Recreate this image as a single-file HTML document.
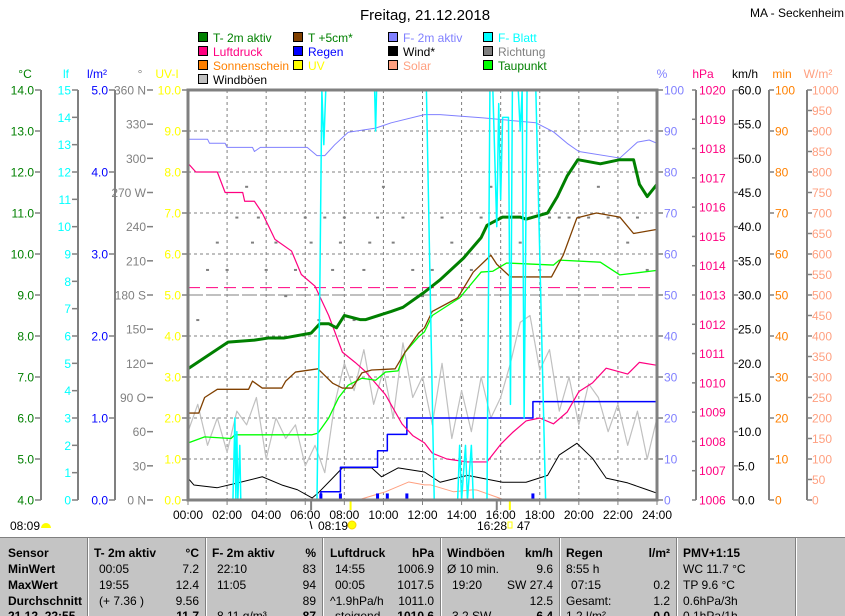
<!DOCTYPE html>
<html><head><meta charset="utf-8">
<style>
html,body{margin:0;padding:0;background:#fff;}
body{width:845px;height:615px;overflow:hidden;position:relative;font-family:"Liberation Sans",sans-serif;}
svg{position:absolute;left:0;top:0;}
text{font-family:"Liberation Sans",sans-serif;}
#tbl{position:absolute;left:0;top:537px;width:845px;height:78px;background:#c4c4c4;border-top:1px solid #808080;overflow:hidden;}
.col{position:absolute;top:0;height:78px;border-right:1px solid #808080;box-shadow:1px 0 0 #fff;}
.r{position:absolute;font-size:12px;white-space:nowrap;}
.b{font-weight:bold;}
</style></head>
<body>
<svg id="chart" width="845" height="537"></svg>
<div id="tbl">
  <div class="col" style="left:0;width:87px">
    <div class="r b" style="left:8px;top:8px">Sensor</div>
    <div class="r b" style="left:8px;top:24px">MinWert</div>
    <div class="r b" style="left:8px;top:40px">MaxWert</div>
    <div class="r b" style="left:8px;top:56px">Durchschnitt</div>
    <div class="r b" style="left:8px;top:71px">21.12. 22:55</div>
  </div>
  <div class="col" style="left:88px;width:117px">
    <div class="r b" style="left:6px;top:8px">T- 2m aktiv</div><div class="r b" style="right:6px;top:8px">°C</div>
    <div class="r" style="left:11px;top:24px">00:05</div><div class="r" style="right:6px;top:24px">7.2</div>
    <div class="r" style="left:11px;top:40px">19:55</div><div class="r" style="right:6px;top:40px">12.4</div>
    <div class="r" style="left:11px;top:56px">(+ 7.36 )</div><div class="r" style="right:6px;top:56px">9.56</div>
    <div class="r b" style="right:6px;top:71px">11.7</div>
  </div>
  <div class="col" style="left:206px;width:116px">
    <div class="r b" style="left:6px;top:8px">F- 2m aktiv</div><div class="r b" style="right:6px;top:8px">%</div>
    <div class="r" style="left:11px;top:24px">22:10</div><div class="r" style="right:6px;top:24px">83</div>
    <div class="r" style="left:11px;top:40px">11:05</div><div class="r" style="right:6px;top:40px">94</div>
    <div class="r" style="right:6px;top:56px">89</div>
    <div class="r" style="left:11px;top:71px">8.11 g/m³</div><div class="r b" style="right:6px;top:71px">87</div>
  </div>
  <div class="col" style="left:323px;width:117px">
    <div class="r b" style="left:7px;top:8px">Luftdruck</div><div class="r b" style="right:6px;top:8px">hPa</div>
    <div class="r" style="left:12px;top:24px">14:55</div><div class="r" style="right:6px;top:24px">1006.9</div>
    <div class="r" style="left:12px;top:40px">00:05</div><div class="r" style="right:6px;top:40px">1017.5</div>
    <div class="r" style="left:7px;top:56px">^1.9hPa/h</div><div class="r" style="right:6px;top:56px">1011.0</div>
    <div class="r" style="left:12px;top:71px">steigend</div><div class="r b" style="right:6px;top:71px">1010.6</div>
  </div>
  <div class="col" style="left:441px;width:118px">
    <div class="r b" style="left:6px;top:8px">Windböen</div><div class="r b" style="right:6px;top:8px">km/h</div>
    <div class="r" style="left:6px;top:24px">Ø 10 min.</div><div class="r" style="right:6px;top:24px">9.6</div>
    <div class="r" style="left:11px;top:40px">19:20</div><div class="r" style="right:6px;top:40px">SW 27.4</div>
    <div class="r" style="right:6px;top:56px">12.5</div>
    <div class="r" style="left:11px;top:71px">3.2 SW</div><div class="r b" style="right:6px;top:71px">6.4</div>
  </div>
  <div class="col" style="left:560px;width:116px">
    <div class="r b" style="left:6px;top:8px">Regen</div><div class="r b" style="right:6px;top:8px">l/m²</div>
    <div class="r" style="left:6px;top:24px">8:55 h</div>
    <div class="r" style="left:11px;top:40px">07:15</div><div class="r" style="right:6px;top:40px">0.2</div>
    <div class="r" style="left:6px;top:56px">Gesamt:</div><div class="r" style="right:6px;top:56px">1.2</div>
    <div class="r" style="left:6px;top:71px">1.2 l/m²</div><div class="r b" style="right:6px;top:71px">0.0</div>
  </div>
  <div class="col" style="left:677px;width:118px">
    <div class="r b" style="left:6px;top:8px">PMV+1:15</div>
    <div class="r" style="left:6px;top:24px">WC 11.7 °C</div>
    <div class="r" style="left:6px;top:40px">TP 9.6 °C</div>
    <div class="r" style="left:6px;top:56px">0.6hPa/3h</div>
    <div class="r" style="left:6px;top:71px">0.1hPa/1h</div>
  </div>
</div>
<script>
// ---- data ----
const tempTimes = [0,2.05,3.4,4.1,4.9,6.3,6.75,7.2,7.6,8.0,8.8,9.1,10.4,11.0,12.1,12.9,14.1,15.0,15.3,16.1,17.0,17.3,18.4,18.9,19.4,19.95,21.1,22.1,22.8,23.1,23.5,24];
const tempValues = [7.2,7.85,7.9,7.95,7.95,8.07,8.3,8.3,8.2,8.5,8.4,8.4,8.6,8.7,9.07,9.37,9.9,10.4,10.7,10.9,10.9,10.85,11.0,11.4,11.9,12.3,12.2,12.3,12.3,11.7,11.4,11.7];
const humTimes = [0,1.0,1.1,1.9,2.0,3.3,3.4,3.7,6.1,6.6,7.0,7.5,8.2,9.6,10.4,12.1,12.9,15.1,17.8,18.7,19.4,20.0,22.1,23.0,23.6,24];
const humValues = [88,88,87,87,86,86,85,86,86,84,84,86.6,89.7,90.7,92,94,94,93.2,92,89.8,87,85,83.4,87.3,87.8,87];
const pressTimes = [0,0.4,1.5,1.9,2.8,2.9,3.4,3.8,4.45,5.3,5.8,6.5,7.2,7.9,8.55,9.06,10.1,10.95,11.5,12.1,12.5,13.25,14.3,15.3,16.0,16.6,17.3,18.0,18.7,19.4,20.0,20.7,21.4,22.5,23.1,24];
const pressValues = [1017.5,1017.2,1017.2,1016.5,1016.5,1016.2,1016.2,1015.8,1014.9,1014.5,1013.7,1013.3,1012.3,1011.05,1010.7,1010.4,1009.6,1008.6,1008.2,1007.95,1007.6,1007.4,1007.3,1007.3,1007.9,1008.3,1008.7,1008.8,1008.6,1009.0,1009.7,1010.0,1010.5,1010.3,1010.7,1010.6];
const soilTimes = [0,0.55,0.85,1.5,3.1,3.3,3.8,4.8,5.0,5.5,6.65,7.4,7.9,8.4,8.9,9.4,10.6,11.1,11.8,12.1,12.5,13.8,14.6,15.5,15.8,16.5,18.6,19.2,19.9,20.9,22.1,22.8,24];
const soilValues = [6.12,6.12,6.5,6.7,6.7,6.9,6.73,6.73,6.9,7.12,7.2,6.85,6.73,6.73,7.1,7.17,7.2,7.6,8.07,8.2,8.6,8.93,9.56,9.97,9.75,9.44,9.44,9.97,10.88,11.0,10.9,10.5,10.6];
const dewTimes = [0,0.85,2.2,2.4,6.35,6.65,7.2,7.7,8.2,8.9,9.6,10.1,10.75,11.1,11.8,12.1,12.5,13.9,15.0,15.6,16.3,18.7,19.0,21.1,22.1,24];
const dewValues = [5.39,5.54,5.5,5.59,5.59,5.63,6.0,6.49,6.8,6.97,6.92,7.12,7.15,7.6,7.98,8.1,8.5,8.93,9.56,9.58,9.78,9.73,9.85,9.8,9.49,9.6];
const windTimes = [0,0.3,1.5,2.55,3.8,4.8,5.6,6.35,6.65,7.4,7.9,9.4,9.9,10.75,12.1,12.9,14.3,16.1,17.3,18.4,19.0,19.9,20.7,21.4,22.5,23.5,24];
const windValues = [3.2,2.2,1.8,2.5,3.4,2.2,1.5,0.3,1.0,3.2,4.7,4.7,3.4,4.7,4.1,2.6,3.6,2.6,2.6,3.6,6.6,8.3,6.1,3.2,2.5,1.5,1.0];
const gustTimes = [0,0.5,1,1.5,2,2.5,3,3.5,4,4.5,5,5.5,6,6.5,7,7.5,8,8.5,9,9.5,10,10.5,11,11.5,12,12.5,13,13.5,14,14.5,15,15.5,16,16.5,17,17.5,18,18.5,19,19.5,20,20.5,21,21.5,22,22.5,23,23.5,24];
const gustValues = [10,14,8,12,7,13,11,15,6,12,9,11,5,8,4,14,20,16,22,14,19,12,23,15,18,11,20,9,16,10,18,12,15,20,26,27,19,22,13,18,11,17,15,10,14,8,13,6,12];
const rainTimes = [0,6.8,7.8,9.7,10.2,11.2,17.65,24];
const rainTotals = [0,0.1,0.4,0.6,0.8,1.0,1.2,1.2];
const rainRateTimes = [6.8,7.8,9.7,10.2,11.2,17.65];
const rainRates = [0.2,0.2,0.2,0.2,0.2,0.2];
const leafTimes = [0,2.3,2.4,2.45,2.5,2.55,2.65,2.7,6.6,6.75,6.85,6.95,7.05,9.55,9.6,9.65,12.2,12.6,13.8,13.9,14.0,14.2,14.3,14.5,14.6,15.3,15.45,15.6,15.8,15.9,16.0,16.1,16.4,16.5,16.6,16.9,17.0,17.1,17.2,17.35,17.8,18.3,24];
const leafValues = [0,0,3,0,2.5,0,2,0,0,8,15,13,15,15,13.5,15,15,0,0,2,0,2,0,2,0,0,15,15,10,14.5,11,14,14,3.5,15,15,13.5,15,3,15,15,0,0];
const solarTimes = [0,8.7,10.1,11.3,12.1,12.4,13.6,14.6,14.8,15.8,16.2,24];
const solarValues = [0,0,20,44,37,37,20,25,24,7,0,0];
const sunTimes = [0,24];
const sunValues = [0,0];
const dirTimes = [0.5,1,1.5,2,2.5,3,3.3,3.6,4,4.5,5,5.5,6,6.3,6.7,7,7.4,7.8,8,8.5,9,9.3,9.7,10,10.5,11,11.5,12,12.5,13,13.5,14,14.5,15,15.5,16,16.5,17,17.5,18,18.5,19,19.5,20,20.5,21,21.5,22,22.5,23,23.5,24];
const dirValues = [158,202,226,202,248,275,226,248,202,226,179,202,248,226,158,248,202,226,248,158,202,226,248,275,226,248,202,179,202,248,226,158,202,248,275,248,248,226,248,202,248,248,248,248,248,275,248,248,226,248,202,248];
const xTickLabels = ["00:00","02:00","04:00","06:00","08:00","10:00","12:00","14:00","16:00","18:00","20:00","22:00","24:00"];
const tempTicks = ["14.0","13.0","12.0","11.0","10.0","9.0","8.0","7.0","6.0","5.0","4.0"];
const leafTicks = ["15","14","13","12","11","10","9","8","7","6","5","4","3","2","1","0"];
const rainTicks = ["5.0","4.0","3.0","2.0","1.0","0.0"];
const dirTicks = ["360 N","330","300","270 W","240","210","180 S","150","120","90 O","60","30","0 N"];
const uvTicks = ["10.0","9.0","8.0","7.0","6.0","5.0","4.0","3.0","2.0","1.0","0.0"];
const humTicks = ["100","90","80","70","60","50","40","30","20","10","0"];
const pressTicks = ["1020","1019","1018","1017","1016","1015","1014","1013","1012","1011","1010","1009","1008","1007","1006"];
const windTicks = ["60.0","55.0","50.0","45.0","40.0","35.0","30.0","25.0","20.0","15.0","10.0","5.0","0.0"];
const minTicks = ["100","90","80","70","60","50","40","30","20","10","0"];
const solarTicks = ["1000","950","900","850","800","750","700","650","600","550","500","450","400","350","300","250","200","150","100","50","0"];

// ---- geometry ----
const X0=188,X1=657,Y0=90,Y1=500;
const svg=document.getElementById('chart');
const NS='http://www.w3.org/2000/svg';
function xs(h){return X0+h*(X1-X0)/24;}
function ys(v,min,max){return Y1-(v-min)/(max-min)*(Y1-Y0);}
function mk(tag,attrs,parent){const e=document.createElementNS(NS,tag);for(const k in attrs)e.setAttribute(k,attrs[k]);(parent||svg).appendChild(e);return e;}
function txt(x,y,s,fill,anchor,size){const t=mk('text',{x:x,y:y,fill:fill,'font-size':size||12,'text-anchor':anchor||'start'});t.textContent=s;return t;}

let t=txt(425,20,'Freitag, 21.12.2018','#000','middle',15);


t=txt(750,17,'MA - Seckenheim','#000','start',12);



const legItems=[["T- 2m aktiv","#008000","#008000"],["T +5cm*","#804000","#008000"],["F- 2m aktiv","#8080ff","#8080ff"],["F- Blatt","#00ffff","#00ffff"],
["Luftdruck","#ff0080","#ff0080"],["Regen","#0000ff","#0000ff"],["Wind*","#000000","#000000"],["Richtung","#808080","#808080"],
["Sonnenschein","#ff8000","#ff8000"],["UV","#ffff00","#ffff00"],["Solar","#ffa080","#ffa080"],["Taupunkt","#00ff00","#008000"],
["Windböen","#c0c0c0","#000000"]];
const legX=[198,293,388,483];
legItems.forEach((it,i)=>{
  const g=mk('g',{});
  
  
  const x=legX[i%4],y=38+Math.floor(i/4)*14;
  mk('rect',{x:x+0.5,y:y-5.5,width:9,height:9,fill:it[1],stroke:'#000','stroke-width':1},g);
  const tt=mk('text',{x:x+15,y:y+4,fill:it[2],'font-size':12},g);tt.textContent=it[0];
});

const grid=mk('g',{});


for(let i=1;i<12;i++){const x=xs(i*2);mk('line',{x1:x,y1:Y0,x2:x,y2:Y1,stroke:'#808080','stroke-dasharray':'3,3'},grid);}
for(let i=1;i<10;i++){const y=Y0+i*41;mk('line',{x1:X0,y1:y,x2:X1,y2:y,stroke:'#808080','stroke-dasharray':'3,3'},grid);}

function axis(name,labels,lineX,tickX1,tickX2,labelX,anchor,color,unit,unitX){
  const g=mk('g',{});
  
  
  if(lineX!==null) mk('line',{x1:lineX,y1:Y0,x2:lineX,y2:Y1,stroke:'#808080','stroke-width':2},g);
  const n=labels.length-1;
  labels.forEach((l,i)=>{const y=Y0+i*(Y1-Y0)/n;
    mk('line',{x1:tickX1,y1:y,x2:tickX2,y2:y,stroke:'#808080','stroke-width':1.5},g);
    const tt=mk('text',{x:labelX,y:y+4.5,fill:color,'font-size':12,'text-anchor':anchor},g);tt.textContent=l;});
  const u=mk('text',{x:unitX,y:78,fill:color,'font-size':12,'text-anchor':'middle'},g);u.textContent=unit;
}
axis('temp-axis',tempTicks,41,35,41,34,'end','#008000','°C',25);
axis('leaf-axis',leafTicks,78,72,78,71,'end','#00ffff','lf',66);
axis('rain-axis',rainTicks,115,109,115,108,'end','#0000ff','l/m²',97);
axis('direction-axis',dirTicks,null,147,153,146,'end','#808080','°',140);
axis('uv-axis',uvTicks,null,182,188,181,'end','#ffff00','UV-I',167);
axis('humidity-axis',humTicks,null,657,663,664,'start','#8080ff','%',662);
axis('pressure-axis',pressTicks,696,692,696,699,'start','#ff0080','hPa',703);
axis('wind-axis',windTicks,733,733,738,738,'start','#000','km/h',745);
axis('sunshine-axis',minTicks,769,769,774,775,'start','#ff8000','min',782);
axis('solar-axis',solarTicks,807,807,812,812,'start','#ffa080','W/m²',818);

const xg=mk('g',{});


xTickLabels.forEach((l,i)=>{const x=xs(i*2);mk('line',{x1:x,y1:Y1,x2:x,y2:Y1+5,stroke:'#808080'},xg);
  const tt=mk('text',{x:x,y:519,fill:'#000','font-size':12,'text-anchor':'middle'},xg);tt.textContent=l;});
mk('line',{x1:xs(6.3),y1:Y1,x2:xs(6.3),y2:Y1+10,stroke:'#808080','stroke-width':2},xg);
mk('line',{x1:xs(15.8),y1:Y1,x2:xs(15.8),y2:Y1+10,stroke:'#808080','stroke-width':2},xg);
mk('line',{x1:xs(8.32),y1:Y1,x2:xs(8.32),y2:Y1+10,stroke:'#ffff00','stroke-width':2},xg);
mk('line',{x1:xs(16.47),y1:Y1,x2:xs(16.47),y2:Y1+10,stroke:'#ffff00','stroke-width':2},xg);
t=txt(10,530,'08:09','#000','start',12);


mk('path',{d:'M41,528 a5,5 0 0 1 10,0 z',fill:'#ffff00'});
t=txt(318,530,'08:19','#000','start',12);


mk('circle',{cx:352,cy:525,r:4,fill:'#ffff00',stroke:'#ffd000'});
mk('line',{x1:310,y1:521,x2:312,y2:529,stroke:'#000'});
t=txt(477,530,'16:28','#000','start',12);


mk('rect',{x:508,y:522,width:4,height:6,fill:'none',stroke:'#ffff00'});
txt(517,530,'47','#000','start',12);

function line(name,times,vals,min,max,color,w,step){
  let d='';
  times.forEach((h,i)=>{const x=xs(h),y=ys(vals[i],min,max);
    if(i===0)d+='M'+x+','+y;else if(step){d+='H'+x+'V'+y;}else d+='L'+x+','+y;});
  const p=mk('path',{d:d,fill:'none',stroke:color,'stroke-width':w,'stroke-linejoin':'round'});
  
  
  return p;
}
const dg=mk('g',{});


dirTimes.forEach((h,i)=>{mk('rect',{x:xs(h)-1.5,y:ys(dirValues[i],0,360)-1,width:3,height:2,fill:'#808080'},dg);});
mk('line',{x1:X0,y1:ys(1013.25,1006,1020),x2:X1,y2:ys(1013.25,1006,1020),stroke:'#ff0080','stroke-dasharray':'12,6'});
mk('line',{x1:X0,y1:ys(180,0,360),x2:X1,y2:ys(180,0,360),stroke:'#808080','stroke-dasharray':'6,3'});

line('gust-line',gustTimes,gustValues,0,60,'#c0c0c0',1.2,false);
line('solar-line',solarTimes,solarValues,0,1000,'#ffa080',1,false);
line('wind-line',windTimes,windValues,0,60,'#000',1,false);
line('rain-total-line',rainTimes,rainTotals,0,5,'#0000ff',1.5,true);
const rg=mk('g',{});


rainRateTimes.forEach((h,i)=>{const y=ys(rainRates[i]*0.4,0,5);mk('rect',{x:xs(h)-1.5,y:y,width:3,height:Y1-y,fill:'#0000ff'},rg);});
line('humidity-line',humTimes,humValues,0,100,'#8080ff',1,false);
line('pressure-line',pressTimes,pressValues,1006,1020,'#ff0080',1.2,false);
line('dewpoint-line',dewTimes,dewValues,4,14,'#00ff00',1.3,false);
line('soil-temp-line',soilTimes,soilValues,4,14,'#804000',1.3,false);
line('temperature-line',tempTimes,tempValues,4,14,'#008000',3,false);
line('leaf-wetness-line',leafTimes,leafValues,0,15,'#00ffff',1.5,false);
line('sunshine-line',sunTimes,sunValues,0,100,'#ff8000',2,false);

const fr=mk('rect',{x:X0,y:Y0,width:X1-X0,height:Y1-Y0,fill:'none',stroke:'#808080','stroke-width':3});


</script>
</body></html>
